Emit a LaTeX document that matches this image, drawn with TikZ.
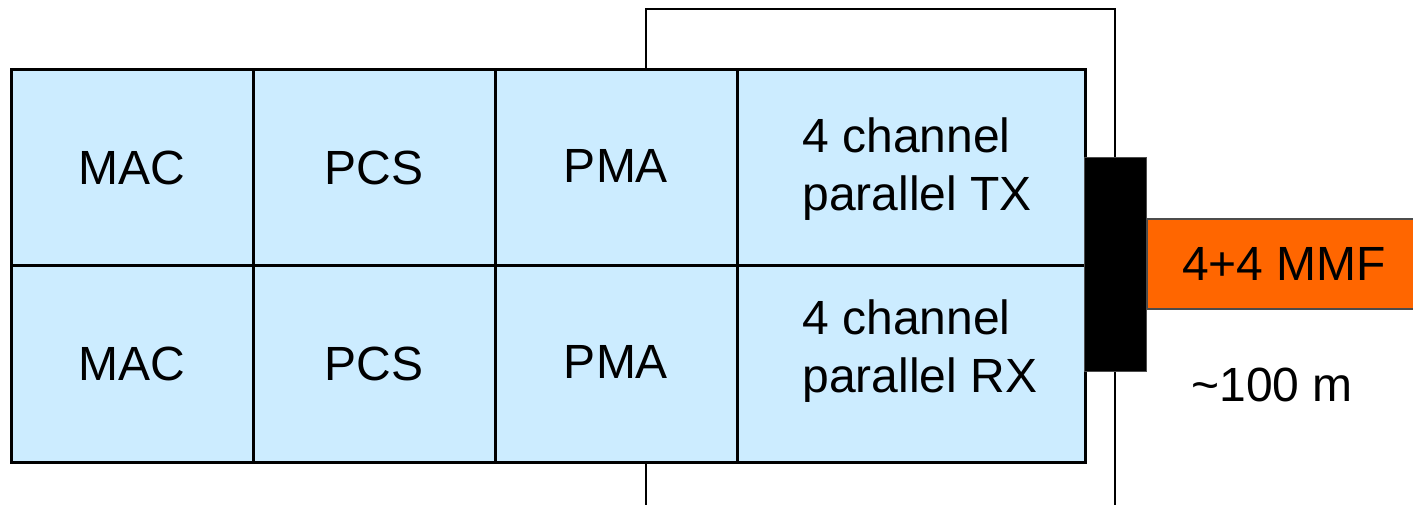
\documentclass[tikz,border=0pt]{standalone}
\usepackage{fontspec}
\setmainfont{Liberation Sans}
\begin{document}
\begin{tikzpicture}[x=0.5pt,y=-0.5pt,
  txt/.style={font=\fontsize{24}{29}\selectfont},
  cell/.style={draw=black, line width=1.5pt, fill=cellblue, inner sep=0pt,
    minimum height=98.25pt, txt},
  narrow/.style={cell, minimum width=121pt},
  wide/.style={cell, minimum width=174pt},
  frame/.style={draw=black, line width=1pt},
  plug/.style={draw=black!70, line width=0.5pt, fill=black, inner sep=0pt},
  fibre/.style={draw=black!70, line width=0.75pt, fill=fibreorange, inner sep=0pt, txt}]
\definecolor{cellblue}{HTML}{CCECFF}
\definecolor{fibreorange}{HTML}{FF6600}
\useasboundingbox (0,0) rectangle (1413,504);

% housing outline behind the layer stack
\coordinate (hTL) at (646,9);
\coordinate (hBR) at (1115,530);
\draw[frame] (hTL) rectangle (hBR);

% transmit row
\node[narrow] (mac1) at (132,167.5) {MAC};
\node[narrow] (pcs1) at (374,167.5) {PCS};
\node[narrow] (pma1) at (616,167.5) {\raisebox{2pt}{PMA}};
\node[wide]   (tx)   at (911,167.5) {};
\node[txt, align=left, inner sep=0pt, anchor=west] (txl) at (802,169) {4 channel\\parallel TX};
% receive row
\node[narrow] (mac2) at (132,364) {MAC};
\node[narrow] (pcs2) at (374,364) {PCS};
\node[narrow] (pma2) at (616,364) {\raisebox{2pt}{PMA}};
\node[wide]   (rx)   at (911,364) {};
\node[txt, align=left, inner sep=0pt, anchor=west] (rxl) at (802,351) {4 channel\\parallel RX};

% connector and fibre
\node[plug, minimum width=31pt, minimum height=107pt] (conn) at (1115,264) {};
\node[fibre, minimum width=137pt, minimum height=45pt, anchor=west] (mmf) at (conn.east |- 0,264) {4+4 MMF\hspace{5pt}};
\node[txt] (len) at (1272,385) {\textasciitilde100 m};
\end{tikzpicture}
\end{document}
